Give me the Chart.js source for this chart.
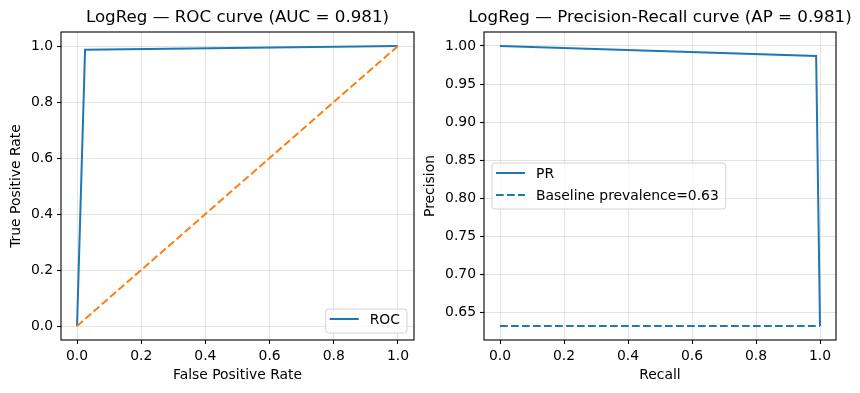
<!DOCTYPE html>
<html>
<head>
<meta charset="utf-8">
<script src="https://cdn.jsdelivr.net/npm/chart.js@4.4.1/dist/chart.umd.min.js"></script>
<style>
  html, body { margin: 0; padding: 0; background: #fff; }
  body { width: 860px; height: 393px; position: relative; overflow: hidden; }
  #roc-wrap { position: absolute; left: 0; top: 0; width: 416px; height: 393px; }
  #pr-wrap { position: absolute; left: 416px; top: 0; width: 444px; height: 393px; }
</style>
</head>
<body>
<div id="roc-wrap"><canvas id="chart-roc"></canvas></div>
<div id="pr-wrap"><canvas id="chart-pr"></canvas></div>
<script>
// data
const rocFpr = [0, 0.025, 1];
const rocTpr = [0, 0.987, 1];
const chanceX = [0, 1];
const chanceY = [0, 1];
const prRecall = [0, 0.988, 1];
const prPrecision = [1.0, 0.987, 0.632];
const baselineRecall = [0, 1];
const baselinePrecision = [0.632, 0.632];
const rocTitle = 'LogReg — ROC curve (AUC = 0.981)';
const prTitle = 'LogReg — Precision-Recall curve (AP = 0.981)';

const BLUE = '#1f77b4';
const ORANGE = '#ff7f0e';
const FONT = "'DejaVu Sans', sans-serif";

Chart.defaults.font.family = FONT;
Chart.defaults.color = '#000';

const pts = (xs, ys) => xs.map((x, i) => ({ x: x, y: ys[i] }));

// title over the plot area, axes frame and a matplotlib-like legend
const frameAndLegend = {
    id: 'frameAndLegend',
    afterDraw(chart, args, opts) {
        const ctx = chart.ctx;
        const a = chart.chartArea;
        ctx.save();
        // title centred on the axes, not squeezed to their width
        ctx.font = '16.7px ' + FONT;
        ctx.fillStyle = '#000';
        ctx.textAlign = 'center';
        ctx.textBaseline = 'middle';
        ctx.fillText(opts.title, (a.left + a.right) / 2, 18);
        ctx.textAlign = 'left';

        ctx.strokeStyle = '#000';
        ctx.lineWidth = 1.1;
        ctx.strokeRect(a.left, a.top, a.right - a.left, a.bottom - a.top);

        const items = chart.data.datasets.filter(d => d.label);
        ctx.font = '13.9px ' + FONT;
        const textW = Math.max(...items.map(d => ctx.measureText(d.label).width));
        const w = 4 + 29 + 11 + textW + 7;
        const h = 10 + 22 * (items.length - 1) + 14;
        let x, y;
        if (opts.loc === 'lower right') {
            x = a.right - 7 - w;
            y = a.bottom - 7 - h;
        } else {
            x = a.left + 8;
            y = (a.top + a.bottom) / 2 - h / 2;
        }
        ctx.beginPath();
        ctx.roundRect(x, y, w, h, 3);
        ctx.fillStyle = 'rgba(255,255,255,0.8)';
        ctx.fill();
        ctx.strokeStyle = '#d3d3d3';
        ctx.lineWidth = 1;
        ctx.stroke();
        items.forEach((d, i) => {
            const cy = y + 10 + 22 * i;
            ctx.beginPath();
            ctx.setLineDash(d.borderDash || []);
            ctx.strokeStyle = d.borderColor;
            ctx.lineWidth = d.borderWidth;
            ctx.moveTo(x + 4, cy);
            ctx.lineTo(x + 33, cy);
            ctx.stroke();
            ctx.setLineDash([]);
            ctx.fillStyle = '#000';
            ctx.textBaseline = 'middle';
            ctx.fillText(d.label, x + 44, cy + 1);
        });
        ctx.restore();
    }
};

const gridOpts = {
    color: 'rgba(176,176,176,0.35)',
    lineWidth: 1,
    drawTicks: true,
    tickLength: 4,
    tickColor: '#000',
    tickWidth: 1.1
};

function makeOptions(cfg) {
    return {
        responsive: true,
        maintainAspectRatio: false,
        animation: false,
        layout: { padding: cfg.padding },
        plugins: {
            legend: { display: false },
            tooltip: { enabled: false },
            title: { display: false },
            frameAndLegend: { loc: cfg.legendLoc, title: cfg.title }
        },
        scales: {
            x: {
                type: 'linear',
                min: -0.05,
                max: 1.05,
                grid: gridOpts,
                border: { display: false },
                ticks: {
                    stepSize: 0.2,
                    includeBounds: false,
                    padding: 4,
                    maxRotation: 0,
                    font: { size: 13.9 },
                    callback: v => v.toFixed(1)
                },
                title: {
                    display: true,
                    text: cfg.xLabel,
                    font: { size: 13.9 },
                    padding: { top: 4, bottom: 4 }
                },
                afterFit: s => { s.height = 48; }
            },
            y: {
                type: 'linear',
                min: cfg.yMin,
                max: cfg.yMax,
                grid: gridOpts,
                border: { display: false },
                ticks: {
                    stepSize: cfg.yStep,
                    includeBounds: false,
                    padding: 4,
                    font: { size: 13.9 },
                    callback: v => v.toFixed(cfg.yDigits)
                },
                title: {
                    display: true,
                    text: cfg.yLabel,
                    font: { size: 13.9 },
                    padding: { top: 4, bottom: 4 }
                },
                afterFit: s => { s.width = cfg.yWidth; }
            }
        }
    };
}

new Chart(document.getElementById('chart-roc'), {
    type: 'scatter',
    data: {
        datasets: [{
            label: 'ROC',
            data: pts(rocFpr, rocTpr),
            showLine: true,
            borderColor: BLUE,
            backgroundColor: BLUE,
            borderWidth: 2,
            pointRadius: 0,
            tension: 0
        }, {
            data: pts(chanceX, chanceY),
            showLine: true,
            borderColor: ORANGE,
            backgroundColor: ORANGE,
            borderWidth: 2,
            borderDash: [7.7, 3.3],
            pointRadius: 0,
            order: -1
        }]
    },
    options: makeOptions({
        title: rocTitle,
        xLabel: 'False Positive Rate',
        yLabel: 'True Positive Rate',
        yMin: -0.05, yMax: 1.05, yStep: 0.2, yDigits: 1,
        yWidth: 57,
        padding: { left: 4, right: 2, top: 32, bottom: 5 },
        legendLoc: 'lower right'
    }),
    plugins: [frameAndLegend]
});

// matplotlib-style 5% margins around the PR data
const prAll = prPrecision.concat(baselinePrecision);
const prLo = Math.min(...prAll), prHi = Math.max(...prAll);
const prPad = (prHi - prLo) * 0.05;

new Chart(document.getElementById('chart-pr'), {
    type: 'scatter',
    data: {
        datasets: [{
            label: 'PR',
            data: pts(prRecall, prPrecision),
            showLine: true,
            borderColor: BLUE,
            backgroundColor: BLUE,
            borderWidth: 2,
            pointRadius: 0
        }, {
            label: 'Baseline prevalence=0.63',
            data: pts(baselineRecall, baselinePrecision),
            showLine: true,
            borderColor: BLUE,
            backgroundColor: BLUE,
            borderWidth: 2,
            borderDash: [7.7, 3.3],
            pointRadius: 0
        }]
    },
    options: makeOptions({
        title: prTitle,
        xLabel: 'Recall',
        yLabel: 'Precision',
        yMin: prLo - prPad, yMax: prHi + prPad, yStep: 0.05, yDigits: 2,
        yWidth: 66,
        padding: { left: 2, right: 24, top: 32, bottom: 5 },
        legendLoc: 'center left'
    }),
    plugins: [frameAndLegend]
});
</script>
</body>
</html>
